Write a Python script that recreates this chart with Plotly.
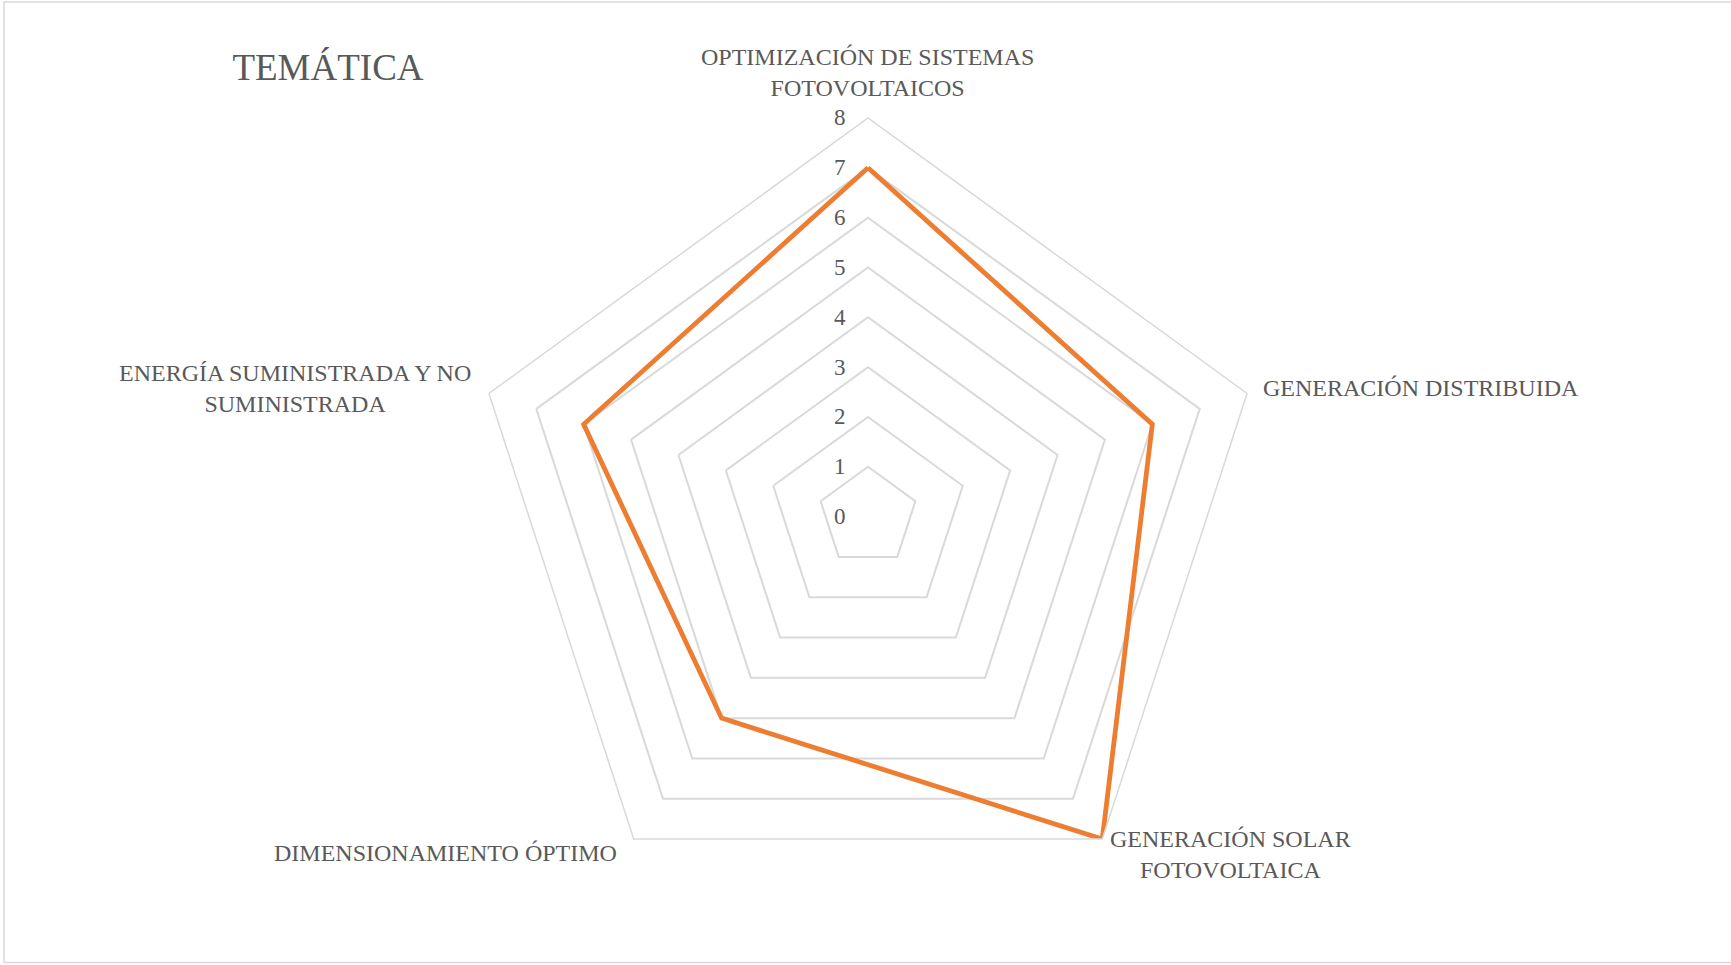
import math
import plotly.graph_objects as go

categories = [
    "OPTIMIZACIÓN DE SISTEMAS<br>FOTOVOLTAICOS",
    "GENERACIÓN DISTRIBUIDA",
    "GENERACIÓN SOLAR<br>FOTOVOLTAICA",
    "DIMENSIONAMIENTO ÓPTIMO",
    "ENERGÍA SUMINISTRADA Y NO<br>SUMINISTRADA",
]
values = [7, 6, 8, 5, 6]
radial_ticks = [0, 1, 2, 3, 4, 5, 6, 7, 8]

W, H = 1731, 965
cx, cy, R = 868, 516.6, 398.6

TEXT = "#595959"
GRID = "#d9d9d9"
FONT = "Liberation Serif, Times New Roman, serif"

fig = go.Figure()
fig.add_trace(go.Scatterpolar(
    r=values + values[:1],
    theta=categories + categories[:1],
    mode="lines",
    line=dict(color="#ED7D31", width=4.8),
    showlegend=False,
    hoverinfo="skip",
))

# category labels placed just outside each vertex of the outer ring (Excel style)
# (dx, dy offsets from vertex in px, xanchor, yanchor)
label_place = [
    (0, -14.5, "center", "bottom"),
    (14, -5, "left", "middle"),
    (6, -15.5, "left", "top"),
    (-15, 14, "right", "middle"),
    (-16, -5, "right", "middle"),
]
annotations = []
n = len(categories)
for i, (cat, (dx, dy, xa, ya)) in enumerate(zip(categories, label_place)):
    ang = math.radians(90 - 360 * i / n)
    vx = cx + R * math.cos(ang)
    vy = cy - R * math.sin(ang)
    annotations.append(dict(
        text=cat, xref="paper", yref="paper",
        x=(vx + dx) / W, y=1 - (vy + dy) / H,
        xanchor=xa, yanchor=ya, align="center", showarrow=False,
        font=dict(family=FONT, size=24, color=TEXT),
    ))

fig.update_layout(
    width=W, height=H,
    margin=dict(l=0, r=0, t=0, b=0),
    paper_bgcolor="white",
    plot_bgcolor="white",
    font=dict(family=FONT, color=TEXT, size=24),
    title=dict(text="TEMÁTICA", x=328 / W, xanchor="center", y=1 - 67 / H, yanchor="middle",
               font=dict(family=FONT, size=37, color=TEXT)),
    annotations=annotations,
    polar=dict(
        domain=dict(x=[(cx - R) / W, (cx + R) / W], y=[(H - cy - R) / H, (H - cy + R) / H]),
        gridshape="linear",
        bgcolor="white",
        radialaxis=dict(
            range=[0, 8], tickvals=radial_ticks, ticktext=[str(v) for v in radial_ticks],
            angle=90, tickangle=90, side="counterclockwise",
            showline=False, showgrid=True, gridcolor=GRID, gridwidth=1.5,
            ticks="outside", ticklen=14, tickcolor="rgba(0,0,0,0)",
            tickfont=dict(size=23, color=TEXT, family=FONT),
        ),
        angularaxis=dict(
            rotation=90, direction="clockwise",
            showgrid=False, showline=True, linecolor=GRID, linewidth=1.5,
            ticks="", showticklabels=False,
        ),
    ),
    shapes=[dict(type="rect", xref="paper", yref="paper",
                 x0=4 / W, x1=1.01, y0=2.5 / H, y1=1 - 2 / H,
                 line=dict(color=GRID, width=1.5), fillcolor="rgba(0,0,0,0)", layer="below")],
)

fig.write_html("out.html")
